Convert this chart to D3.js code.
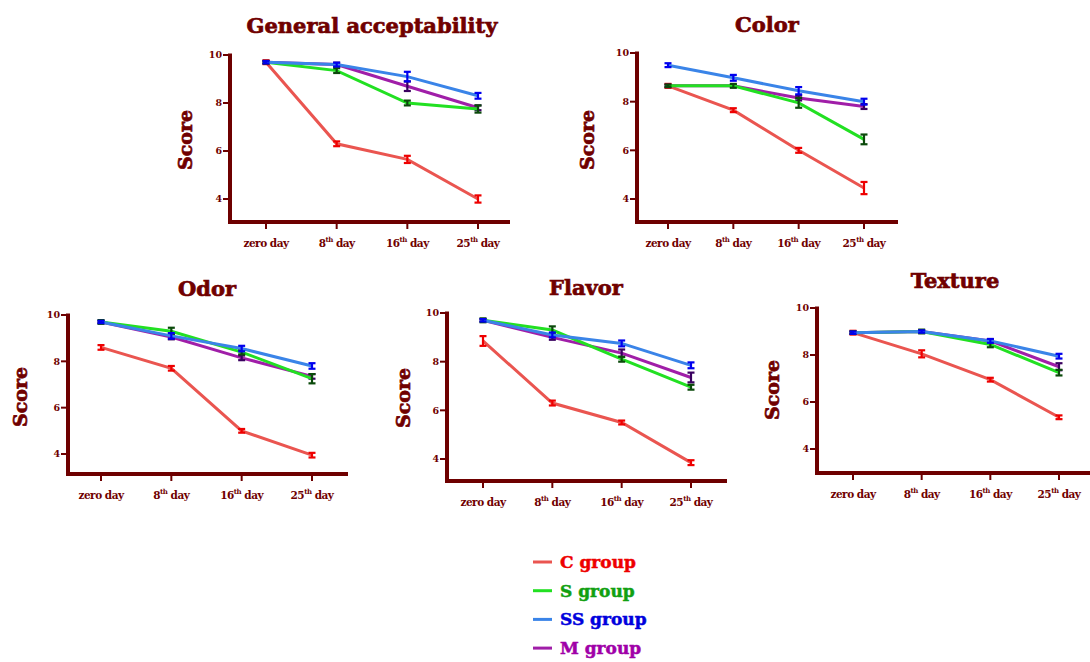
<!DOCTYPE html>
<html>
<head>
<meta charset="utf-8">
<script src="https://cdn.jsdelivr.net/npm/d3@7"></script>
<style>
  body { margin: 0; background: #fff; }
  text { font-family: "DejaVu Serif", serif; font-weight: bold; fill: #700000; }
  .heavy { stroke: #700000; stroke-width: 0.7px; }
</style>
</head>
<body>
<script>
// Data
const days = ["zero day", "8th day", "16th day", "25th day"];
const groups = ["C group", "S group", "SS group", "M group"];
const panels = ["General acceptability", "Color", "Odor", "Flavor", "Texture"];

// mean scores, one array per panel, rows in the order of groups
const generalMean = [[9.7, 6.3, 5.65, 4.0], [9.7, 9.35, 8.0, 7.75], [9.7, 9.6, 9.1, 8.3], [9.7, 9.6, 8.7, 7.8]];
const colorMean   = [[8.65, 7.65, 6.0, 4.45], [8.65, 8.65, 7.95, 6.45], [9.5, 8.98, 8.45, 8.0], [8.65, 8.65, 8.15, 7.8]];
const odorMean    = [[8.6, 7.7, 5.0, 3.95], [9.7, 9.3, 8.4, 7.25], [9.7, 9.1, 8.55, 7.8], [9.7, 9.05, 8.15, 7.35]];
const flavorMean  = [[8.85, 6.3, 5.5, 3.85], [9.7, 9.3, 8.1, 6.95], [9.7, 9.1, 8.75, 7.85], [9.7, 9.0, 8.35, 7.35]];
const textureMean = [[8.95, 8.05, 6.95, 5.35], [8.95, 9.0, 8.45, 7.25], [8.95, 9.0, 8.6, 7.95], [8.95, 9.0, 8.6, 7.5]];

// standard errors
const generalErr = [[0.08, 0.1, 0.15, 0.15], [0.05, 0.1, 0.1, 0.15], [0.05, 0.08, 0.2, 0.12], [0.05, 0.08, 0.2, 0.1]];
const colorErr   = [[0.08, 0.08, 0.1, 0.25], [0.05, 0.08, 0.2, 0.2], [0.08, 0.12, 0.15, 0.12], [0.05, 0.05, 0.1, 0.1]];
const odorErr    = [[0.1, 0.1, 0.08, 0.1], [0.08, 0.15, 0.1, 0.2], [0.05, 0.12, 0.12, 0.12], [0.05, 0.1, 0.1, 0.1]];
const flavorErr  = [[0.2, 0.1, 0.08, 0.1], [0.08, 0.15, 0.1, 0.1], [0.05, 0.1, 0.12, 0.12], [0.05, 0.1, 0.15, 0.2]];
const textureErr = [[0.08, 0.15, 0.08, 0.08], [0.05, 0.08, 0.12, 0.12], [0.05, 0.05, 0.08, 0.1], [0.05, 0.05, 0.08, 0.15]];

const yTicks = [4, 6, 8, 10];

const means = [generalMean, colorMean, odorMean, flavorMean, textureMean];
const errs = [generalErr, colorErr, odorErr, flavorErr, textureErr];

// Styles
const lineColor = ["#ea5550", "#22e022", "#3a84e8", "#a01ea8"];
const barColor = ["#ee0000", "#0b4a0b", "#0000ee", "#3a0060"];
const textColor = ["#ee0000", "#11a011", "#0000dd", "#a000a8"];
const axisColor = "#6e0000";
const drawOrder = [0, 3, 1, 2];

// Panel layout (pixels)
const layout = [
  { yx: 230, axisY: 222, y10: 55, y4: 199, x0: 266, x1: 478, xEnd: 510, tx: 372, ty: 33, sx: 185, sy: 140 },
  { yx: 637, axisY: 222, y10: 53, y4: 199, x0: 668, x1: 864, xEnd: 898, tx: 767, ty: 32, sx: 587, sy: 140 },
  { yx: 68, axisY: 474, y10: 315, y4: 454, x0: 101, x1: 312, xEnd: 348, tx: 207, ty: 296, sx: 20, sy: 397 },
  { yx: 447, axisY: 481, y10: 313, y4: 459, x0: 483, x1: 691, xEnd: 727, tx: 586, ty: 295, sx: 403, sy: 398 },
  { yx: 817, axisY: 473, y10: 308, y4: 449, x0: 853, x1: 1059, xEnd: 1090, tx: 955, ty: 288, sx: 772, sy: 390 }
];

const width = 1090, height = 662;

const svg = d3.select("body").append("svg")
    .attr("width", width)
    .attr("height", height);

panels.forEach((name, p) => {
  const L = layout[p];
  const x = d3.scalePoint().domain(days).range([L.x0, L.x1]);
  const y = d3.scaleLinear().domain([4, 10]).range([L.y4, L.y10]);
  const g = svg.append("g");

  // title
  g.append("text")
      .attr("class", "heavy")
      .attr("x", L.tx).attr("y", L.ty)
      .attr("text-anchor", "middle")
      .style("font-size", "21px")
      .text(name);

  // Score label
  g.append("text")
      .attr("class", "heavy")
      .attr("transform", `translate(${L.sx},${L.sy}) rotate(-90)`)
      .attr("text-anchor", "middle")
      .attr("dy", "0.35em")
      .style("font-size", "19px")
      .text("Score");

  // y axis
  const yAxis = g.append("g").attr("transform", `translate(${L.yx},0)`);
  yAxis.append("line")
      .attr("y1", y(10) - 1.5).attr("y2", L.axisY + 2)
      .attr("stroke", axisColor).attr("stroke-width", 4);
  yAxis.selectAll(".yt").data(yTicks).join("line")
      .attr("x1", -7).attr("x2", 0)
      .attr("y1", d => y(d)).attr("y2", d => y(d))
      .attr("stroke", axisColor).attr("stroke-width", 2);
  yAxis.selectAll(".yl").data(yTicks).join("text")
      .attr("x", -8).attr("y", d => y(d))
      .attr("dy", "0.35em")
      .attr("text-anchor", "end")
      .style("font-size", "9.5px")
      .text(d => d);

  // x axis
  const xAxis = g.append("g").attr("transform", `translate(0,${L.axisY})`);
  xAxis.append("line")
      .attr("x1", L.yx - 2).attr("x2", L.xEnd)
      .attr("stroke", axisColor).attr("stroke-width", 4);
  xAxis.selectAll(".xt").data(days).join("line")
      .attr("x1", d => x(d)).attr("x2", d => x(d))
      .attr("y1", 0).attr("y2", 7)
      .attr("stroke", axisColor).attr("stroke-width", 2);
  const xl = xAxis.selectAll(".xl").data(days).join("text")
      .attr("x", d => x(d)).attr("y", 25)
      .attr("text-anchor", "middle")
      .style("font-size", "10.5px")
      .style("letter-spacing", "-0.5px");
  xl.each(function(d) {
    const t = d3.select(this);
    const m = d.match(/^(\d+)(th) (day)$/);
    if (!m) { t.text(d); return; }
    t.append("tspan").text(m[1]);
    t.append("tspan").attr("dy", -5).style("font-size", "7px").text(m[2]);
    t.append("tspan").attr("dy", 5).text(" " + m[3]);
  });

  // series
  const line = d3.line().x((d, i) => x(days[i])).y(d => y(d));
  drawOrder.forEach(s => {
    const vals = means[p][s];
    const e = errs[p][s];
    g.append("path")
        .attr("d", line(vals))
        .attr("fill", "none")
        .attr("stroke", lineColor[s])
        .attr("stroke-width", 3);
    const eb = g.append("g")
        .attr("stroke", barColor[s])
        .attr("stroke-width", 2.2);
    vals.forEach((v, i) => {
      const cx = x(days[i]);
      const hi = y(v + e[i]), lo = y(v - e[i]);
      eb.append("line").attr("x1", cx).attr("x2", cx).attr("y1", hi).attr("y2", lo);
      eb.append("line").attr("x1", cx - 3.5).attr("x2", cx + 3.5).attr("y1", hi).attr("y2", hi);
      eb.append("line").attr("x1", cx - 3.5).attr("x2", cx + 3.5).attr("y1", lo).attr("y2", lo);
    });
  });
});

// legend
const legend = svg.append("g").attr("transform", "translate(533,562)");
groups.forEach((name, i) => {
  const row = legend.append("g").attr("transform", `translate(0,${i * 28.7})`);
  row.append("line")
      .attr("x1", 0).attr("x2", 19)
      .attr("stroke", lineColor[i]).attr("stroke-width", 3);
  row.append("text")
      .attr("x", 27).attr("dy", "0.35em")
      .style("font-size", "17px")
      .style("fill", textColor[i])
      .style("stroke", textColor[i])
      .style("stroke-width", "0.5px")
      .text(name);
});
</script>
</body>
</html>
